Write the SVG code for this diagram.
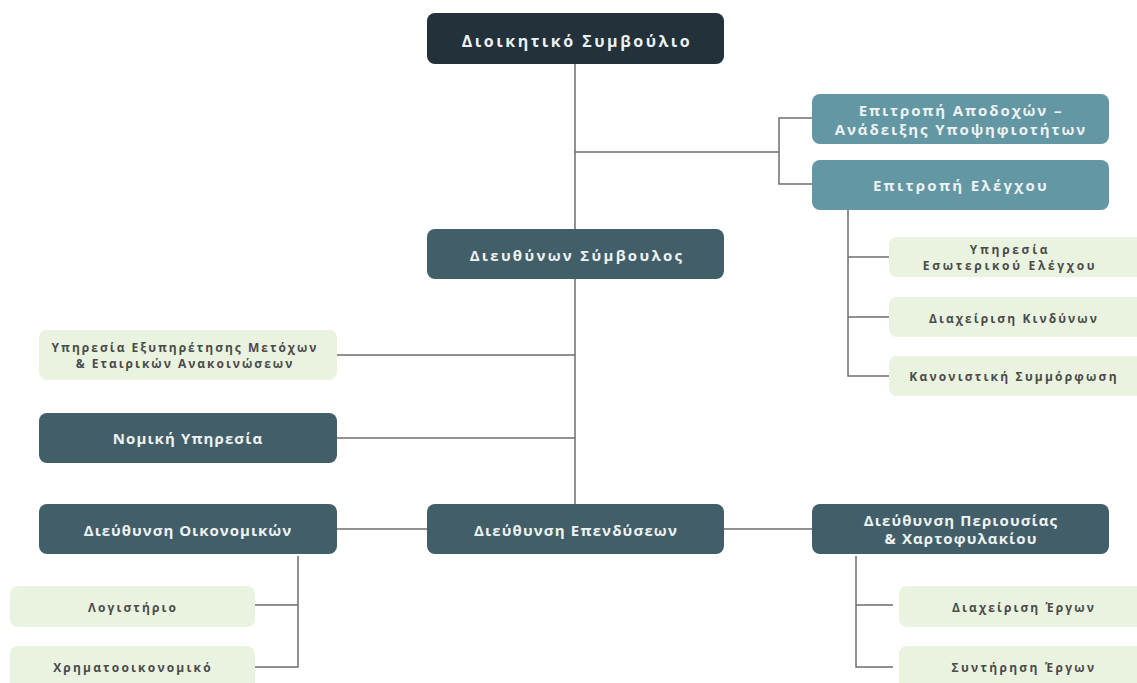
<svg xmlns="http://www.w3.org/2000/svg" width="1137" height="683" viewBox="0 0 1137 683">
<style>
.n rect{rx:8;ry:8}
.top rect{fill:#22313a}
.dk rect{fill:#425f69}
.md rect{fill:#6397a3}
.lt rect{fill:#e9f3e0}
text{font-family:"Open Sans","DejaVu Sans",sans-serif;font-weight:bold;text-anchor:middle;dominant-baseline:central;letter-spacing:1.1px}
.top text,.dk text,.md text{fill:#eef2f2;font-size:15px}
.top text{font-size:16px;letter-spacing:2.5px}
.lt text{fill:#4a4a4a;font-size:12px;letter-spacing:2.1px}
.c{stroke:#6e6e6e;stroke-width:1.5;fill:none}
</style>
<rect width="1137" height="683" fill="#ffffff"/>
<g id="connectors">
<path class="c" d="M575 64V229M575 279V504"/>
<path class="c" d="M575 152H779M812 118H779V184H812"/>
<path class="c" d="M848 210V376H889M848 257H889M848 317H889"/>
<path class="c" d="M337 355H575M337 438H575"/>
<path class="c" d="M337 529H427M724 529H812"/>
<path class="c" d="M298 556V667H255M255 605H298"/>
<path class="c" d="M856 556V667H893M856 605H893"/>
</g>
<g id="n-board" class="n top"><rect x="427" y="13" width="297" height="51"/><text x="577" y="41">Διοικητικό Συμβούλιο</text></g>
<g id="n-ceo" class="n dk"><rect x="427" y="229" width="297" height="50"/><text x="577" y="255" style="letter-spacing:2.3px">Διευθύνων Σύμβουλος</text></g>
<g id="n-rem" class="n md"><rect x="812" y="94" width="297" height="50"/><text x="961" y="110" style="letter-spacing:1.9px">Επιτροπή Αποδοχών –</text><text x="961" y="129" style="letter-spacing:1.9px">Ανάδειξης Υποψηφιοτήτων</text></g>
<g id="n-audit" class="n md"><rect x="812" y="160" width="297" height="50"/><text x="961" y="185" style="letter-spacing:2.3px">Επιτροπή Ελέγχου</text></g>
<g id="n-ia" class="n lt"><rect x="889" y="237" width="260" height="40"/><text x="1010" y="249" style="letter-spacing:2.7px">Υπηρεσία</text><text x="1010" y="265" style="letter-spacing:2.7px">Εσωτερικού Ελέγχου</text></g>
<g id="n-risk" class="n lt"><rect x="889" y="297" width="260" height="40"/><text x="1014" y="318">Διαχείριση Κινδύνων</text></g>
<g id="n-comp" class="n lt"><rect x="889" y="356" width="260" height="40"/><text x="1014" y="376" style="letter-spacing:2.2px">Κανονιστική Συμμόρφωση</text></g>
<g id="n-share" class="n lt"><rect x="39" y="330" width="298" height="50"/><text x="185" y="347" style="letter-spacing:2px">Υπηρεσία Εξυπηρέτησης Μετόχων</text><text x="185" y="363" style="letter-spacing:2px">&amp; Εταιρικών Ανακοινώσεων</text></g>
<g id="n-legal" class="n dk"><rect x="39" y="413" width="298" height="50"/><text x="188" y="438">Νομική Υπηρεσία</text></g>
<g id="n-fin" class="n dk"><rect x="39" y="504" width="298" height="50"/><text x="188" y="530" style="letter-spacing:1px">Διεύθυνση Οικονομικών</text></g>
<g id="n-inv" class="n dk"><rect x="427" y="504" width="297" height="50"/><text x="576" y="530" style="letter-spacing:1.15px">Διεύθυνση Επενδύσεων</text></g>
<g id="n-prop" class="n dk"><rect x="812" y="504" width="297" height="50"/><text x="961" y="520">Διεύθυνση Περιουσίας</text><text x="961" y="538">&amp; Χαρτοφυλακίου</text></g>
<g id="n-acc" class="n lt"><rect x="10" y="586" width="245" height="41"/><text x="133" y="607">Λογιστήριο</text></g>
<g id="n-treas" class="n lt"><rect x="10" y="646" width="245" height="50"/><text x="133" y="667" style="letter-spacing:2.2px">Χρηματοοικονομικό</text></g>
<g id="n-pm" class="n lt"><rect x="899" y="586" width="250" height="41"/><text x="1024" y="607">Διαχείριση Έργων</text></g>
<g id="n-maint" class="n lt"><rect x="899" y="646" width="250" height="50"/><text x="1024" y="667" style="letter-spacing:2.3px">Συντήρηση Έργων</text></g>
</svg>
